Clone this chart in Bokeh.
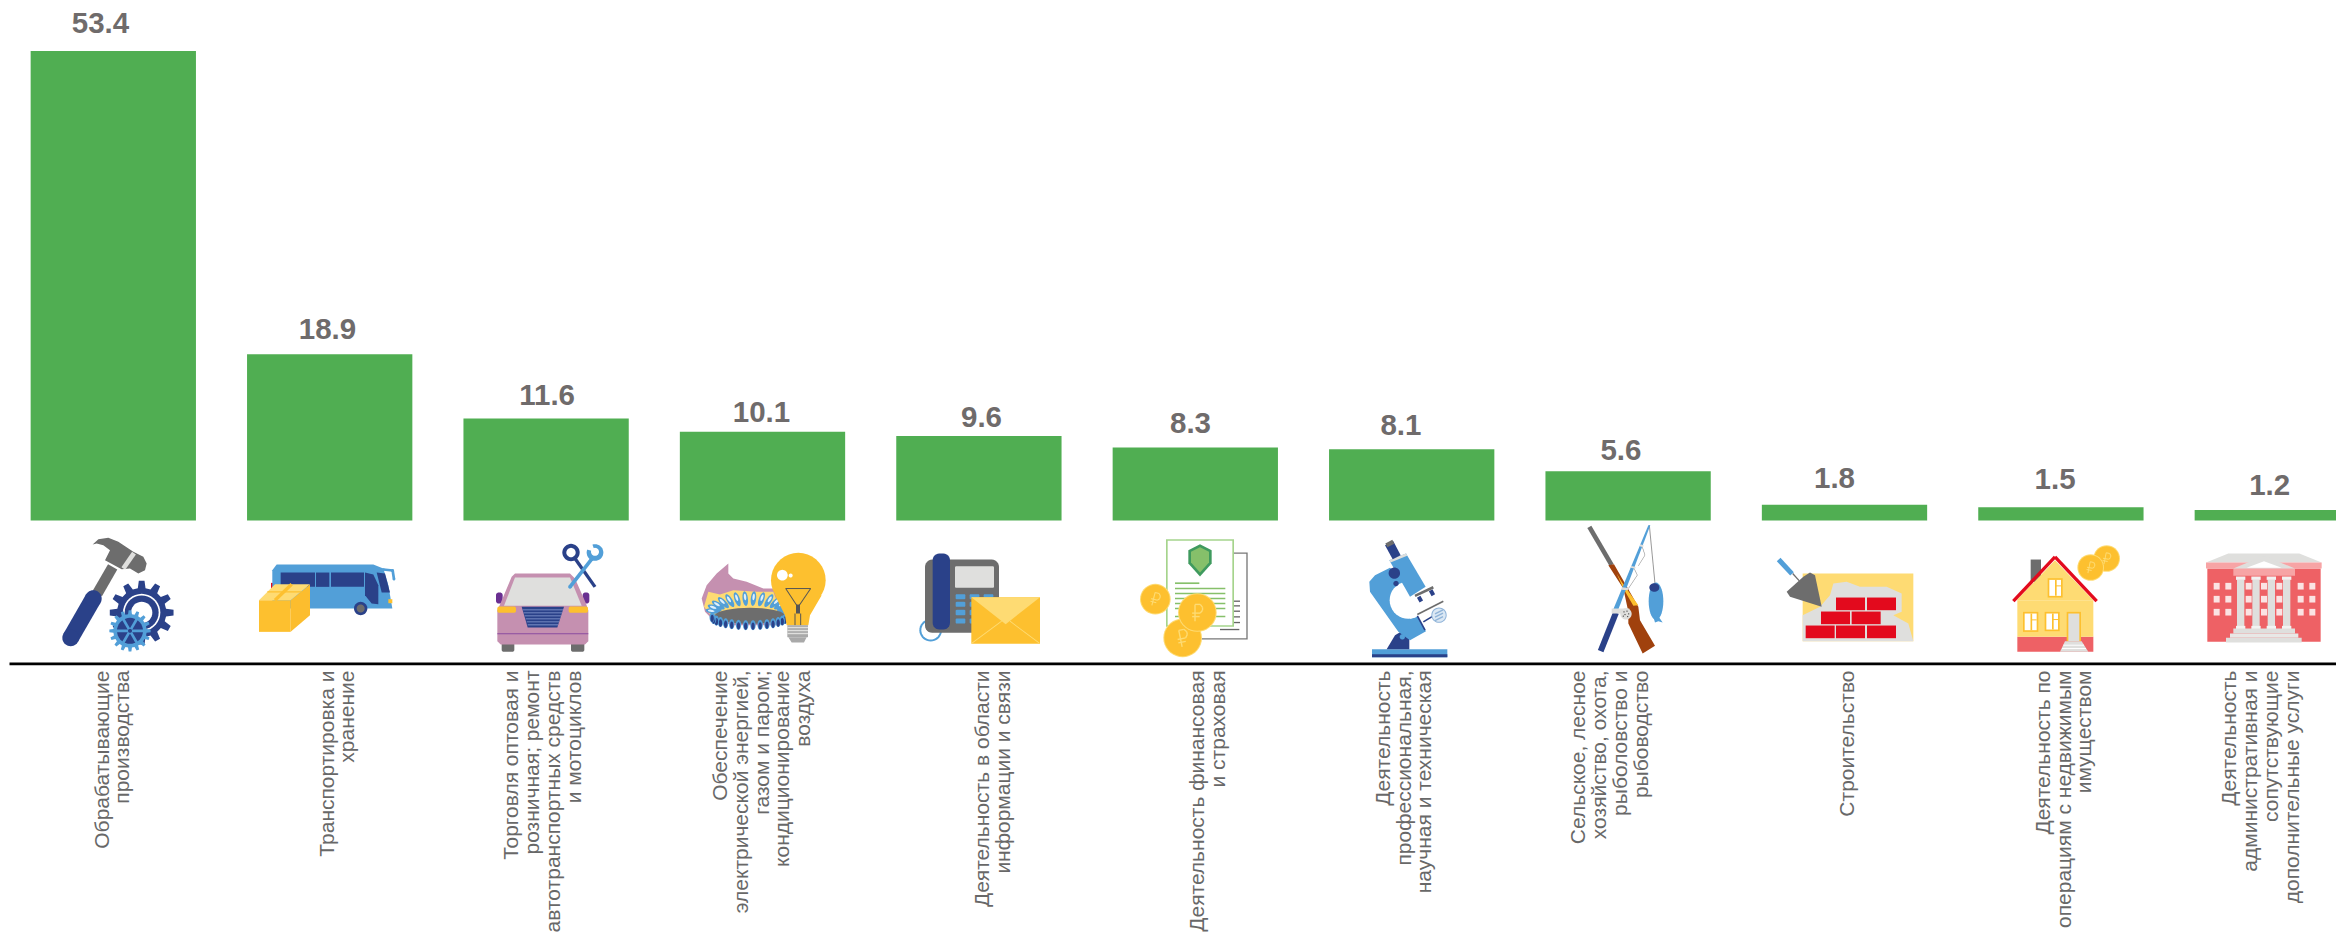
import math
from bokeh.plotting import figure
from bokeh.models import ColumnDataSource, Range1d
from bokeh.core.properties import value
from bokeh.embed import file_html
from bokeh.resources import INLINE

# ---------- data ----------
categories = [
    ["Обрабатывающие", "производства"],
    ["Транспортировка и", "хранение"],
    ["Торговля оптовая и", "розничная; ремонт", "автотранспортных средств", "и мотоциклов"],
    ["Обеспечение", "электрической энергией,", "газом и паром;", "кондиционирование", "воздуха"],
    ["Деятельность в области", "информации и связи"],
    ["Деятельность финансовая", "и страховая"],
    ["Деятельность", "профессиональная,", "научная и техническая"],
    ["Сельское, лесное", "хозяйство, охота,", "рыболовство и", "рыбоводство"],
    ["Строительство"],
    ["Деятельность по", "операциям с недвижимым", "имуществом"],
    ["Деятельность", "административная и", "сопутствующие", "дополнительные услуги"],
]
shares = [53.4, 18.9, 11.6, 10.1, 9.6, 8.3, 8.1, 5.6, 1.8, 1.5, 1.2]

# ---------- layout (pixels, not data) ----------
W, H = 2336, 937
BAR0, PITCH, BARW = 112.8, 216.4, 165.3
BASE_Y, PX_PER_UNIT = 520.0, 8.79
value_label_x = [100.0, 327.0, 546.6, 761.0, 981.0, 1190.0, 1400.4, 1620.4, 1834.0, 2054.6, 2269.2]
value_label_gap = [28, 25, 24, 20, 19, 25, 24, 21.5, 27, 28, 24.5]
cat_label_cx = [111, 336, 541.5, 760.5, 991.5, 1206.5, 1402.5, 1608.5, 1845.5, 2062.5, 2259.5]
LINE_PITCH = 20.7

GREEN, TXT, VAL = "#50ae52", "#686868", "#6f6b6b"
NAVY, SKY, GOLD, PALE, GRAY, LG = "#2a4189", "#529fd8", "#fdc02f", "#fedb73", "#6d6d6d", "#dfdfdd"
PINK, RED, CORAL, ROSE, BROWN = "#c590b0", "#e30a1d", "#ee6165", "#f7a4a5", "#a0410d"

p = figure(width=W, height=H, output_backend="svg", toolbar_location=None,
           x_range=Range1d((0 - BAR0) / PITCH, (W - BAR0) / PITCH),
           y_range=Range1d((BASE_Y - H) / PX_PER_UNIT, BASE_Y / PX_PER_UNIT),
           min_border=0, min_border_left=0, min_border_right=0, min_border_top=0, min_border_bottom=0,
           background_fill_color="white", border_fill_color="white", outline_line_color=None)
p.styles = {"position": "absolute", "left": "0px", "top": "0px"}
p.axis.visible = False
p.grid.visible = False
p.extra_x_ranges["px"] = Range1d(0, W)
p.extra_y_ranges["px"] = Range1d(H, 0)

idx = list(range(len(shares)))
p.vbar(x=idx, top=shares, bottom=0, width=BARW / PITCH, fill_color=GREEN, line_color=None)

# ---------- icons, as polygons in crop coordinates (3x) ----------
shapes = []
O = (0, 0)
def poly(pts, c):
    shapes.append(([O[0] + x / 3 - 0.5 for x, y in pts], [O[1] + y / 3 - 0.3 for x, y in pts], c))
def rect(x0, y0, x1, y1, c):
    poly([(x0, y0), (x1, y0), (x1, y1), (x0, y1)], c)
def ell(cx, cy, rx, ry, c, rot=0.0, n=36):
    pts = []
    for i in range(n):
        a = 2 * math.pi * i / n
        x, y = rx * math.cos(a), ry * math.sin(a)
        pts.append((cx + x * math.cos(rot) - y * math.sin(rot), cy + x * math.sin(rot) + y * math.cos(rot)))
    poly(pts, c)
def circ(cx, cy, r, c):
    ell(cx, cy, r, r, c)
def seg(x0, y0, x1, y1, w, c, round_=False):
    dx, dy = x1 - x0, y1 - y0
    L = math.hypot(dx, dy) or 1
    nx, ny = -dy / L * w / 2, dx / L * w / 2
    poly([(x0 + nx, y0 + ny), (x1 + nx, y1 + ny), (x1 - nx, y1 - ny), (x0 - nx, y0 - ny)], c)
    if round_:
        circ(x0, y0, w / 2, c)
        circ(x1, y1, w / 2, c)
def pline(pts, w, c, round_=False):
    for a, b in zip(pts[:-1], pts[1:]):
        seg(a[0], a[1], b[0], b[1], w, c, round_)
def rrect(x0, y0, x1, y1, r, c):
    pts = []
    for cx, cy, a0 in ((x1 - r, y0 + r, -90), (x1 - r, y1 - r, 0), (x0 + r, y1 - r, 90), (x0 + r, y0 + r, 180)):
        for k in range(7):
            a = math.radians(a0 + k * 15)
            pts.append((cx + r * math.cos(a), cy + r * math.sin(a)))
    poly(pts, c)
def gear(cx, cy, ro, ri, teeth, c):
    pts = []
    st = 2 * math.pi / teeth
    for i in range(teeth):
        a = i * st
        for da, r in ((-0.30, ri), (-0.17, ro), (0.17, ro), (0.30, ri)):
            t = a + da * st
            pts.append((cx + r * math.cos(t), cy + r * math.sin(t)))
    poly(pts, c)
def ruble(cx, cy, s, rot, c=PALE):
    def t(x, y):
        return (cx + s * (x * math.cos(rot) - y * math.sin(rot)), cy + s * (x * math.sin(rot) + y * math.cos(rot)))
    w = 0.12 * s
    pline([t(-0.2, 0.75), t(-0.2, -0.7), t(0.25, -0.7), t(0.45, -0.45), t(0.45, -0.2), t(0.25, 0.05), t(-0.45, 0.05)], w, c)
    seg(*t(-0.45, 0.35), *t(0.2, 0.35), w, c)
def coin(cx, cy, r, rot=0.0):
    circ(cx, cy, r, PALE)
    circ(cx, cy, r - 3, GOLD)
    ruble(cx, cy, r * 0.6, rot)

# 1 hammer + gears
O = (40, 535)
seg(218, 95, 172, 175, 32, GRAY)
seg(160, 190, 92, 308, 50, NAVY, True)
poly([(158, 28), (175, 12), (205, 8), (235, 20), (280, 50), (310, 65), (320, 85), (315, 105), (295, 115),
      (270, 100), (245, 102), (195, 75), (210, 45), (190, 30), (170, 25)], GRAY)
seg(282, 54, 250, 100, 14, LG)
gear(305, 232, 96, 74, 12, NAVY)
circ(305, 232, 56, "white")
circ(305, 232, 51, NAVY)
circ(305, 232, 32, "white")
gear(270, 287, 62, 50, 16, SKY)
circ(270, 287, 39, NAVY)
for k in range(6):
    a = k * math.pi / 3
    seg(270, 287, 270 + 42 * math.cos(a), 287 + 42 * math.sin(a), 8, SKY)
circ(270, 287, 6, NAVY)

# 2 bus + box
rect(693, 143, 700, 162, RED)
poly([(697, 105), (710, 88), (1000, 88), (1030, 100), (1045, 150), (1057, 220), (697, 220)], SKY)
rect(722, 112, 825, 155, NAVY)
rect(828, 112, 868, 155, NAVY)
rect(873, 112, 972, 155, NAVY)
poly([(975, 112), (1000, 118), (1015, 150), (1015, 207), (995, 205), (975, 180)], NAVY)
poly([(1010, 112), (1035, 115), (1050, 172), (1025, 172)], NAVY)
pline([(1030, 103), (1058, 106), (1062, 132)], 8, SKY, True)
rect(1045, 192, 1057, 204, GOLD)
circ(962, 220, 20, NAVY)
circ(962, 220, 12, GRAY)
rect(657, 195, 752, 290, GOLD)
poly([(752, 195), (810, 148), (810, 240), (752, 290)], "#fcbd2e")
poly([(657, 195), (705, 147), (810, 147), (752, 195)], PALE)
seg(682, 170, 785, 170, 4, GOLD)
seg(705, 195, 755, 147, 10, GOLD)

# 3 car + spanners
O = (480, 535)
seg(285, 70, 345, 155, 10, NAVY)
circ(273, 52, 26, NAVY)
circ(273, 52, 14, "white")
rrect(48, 172, 68, 205, 8, "#6a2f91")
rrect(308, 172, 328, 205, 8, "#6a2f91")
rrect(65, 320, 103, 350, 6, GRAY)
rrect(273, 320, 313, 350, 6, GRAY)
poly([(52, 225), (60, 208), (95, 125), (105, 115), (270, 115), (285, 130), (318, 205), (325, 225), (325, 318),
      (315, 328), (62, 328), (52, 318)], PINK)
poly([(105, 127), (270, 127), (305, 212), (72, 212)], LG)
rrect(52, 214, 108, 233, 6, GOLD)
rrect(266, 214, 324, 233, 6, GOLD)
poly([(125, 215), (252, 215), (232, 277), (143, 277)], NAVY)
for k in range(1, 7):
    seg(125 + k * 3, 215 + k * 9, 252 - k * 3, 215 + k * 9, 2.5, "#8ea2d6")
seg(52, 296, 325, 296, 3, "#8a4ba0")
seg(270, 155, 335, 72, 11, SKY, True)
circ(345, 52, 25, SKY)
circ(345, 50, 12, "white")
poly([(345, 50), (318, 42), (335, 22)], "white")

# 4 flame + bulb
poly([(745, 85), (745, 115), (760, 130), (800, 140), (850, 160), (880, 160), (900, 210), (900, 270), (760, 270),
      (700, 255), (675, 230), (665, 190), (680, 150), (710, 115)], PINK)
poly([(672, 215), (685, 170), (720, 178), (760, 165), (830, 170), (880, 170), (910, 250), (700, 250)], PALE)
for k in range(14):
    a = math.pi + (k + 0.5) * math.pi / 14
    x, y = 808 + 110 * math.cos(a), 232 + 42 * math.sin(a)
    ell(x, y, 22, 8, SKY, rot=a)
    ell(x + 5 * math.cos(a), y + 5 * math.sin(a), 10, 3.5, "#dff0fb", rot=a)
ell(810, 242, 106, 24, GRAY)
for k in range(16):
    a = (k + 0.5) * math.pi / 16
    x, y = 808 + 112 * math.cos(a), 244 + 26 * math.sin(a)
    ell(x, y, 8, 15, SKY)
    ell(x, y + 3, 5, 11, NAVY)
poly([(885, 180), (1025, 180), (990, 240), (985, 270), (920, 270), (915, 240)], GOLD)
circ(955, 135, 82, GOLD)
circ(907, 120, 16, "white")
circ(932, 121, 6, "white")
seg(917, 160, 992, 160, 3, "#555555")
seg(917, 160, 950, 210, 3, "#555555")
seg(992, 160, 958, 210, 3, "#555555")
rect(948, 208, 960, 235, "#555555")
seg(945, 235, 945, 270, 3, "#555555")
seg(962, 235, 962, 270, 3, "#555555")
rect(922, 270, 984, 306, "#a9a9a9")
for yy in (277, 286, 295):
    seg(922, yy, 984, yy, 4, LG)
poly([(925, 306), (980, 306), (972, 322), (935, 322)], "#a9a9a9")

# 5 phone + envelope
O = (910, 535)
circ(62, 285, 34, SKY)
circ(62, 285, 28, "white")
rrect(45, 73, 267, 293, 22, GRAY)
rrect(135, 93, 252, 158, 4, LG)
for xx in (137, 179, 221):
    for yy in ((177, 192), (200, 215), (224, 240), (250, 265)):
        rrect(xx, yy[0], xx + 29, yy[1], 3, SKY)
rrect(68, 55, 120, 283, 20, NAVY)
rect(184, 186, 390, 326, GOLD)
poly([(184, 186), (390, 186), (287, 267)], PALE)
seg(186, 324, 275, 258, 2.5, PALE)
seg(388, 324, 300, 258, 2.5, PALE)

# 6 documents + coins
rect(828, 52, 1013, 313, "#777777")
rect(832, 56, 1009, 309, "white")
for yy in (198, 212, 228, 245, 262):
    seg(950, yy, 990, yy, 4, "#666666")
seg(930, 283, 988, 283, 4, "#666666")
rect(768, 12, 972, 275, "#a5d48c")
rect(773, 17, 967, 270, "white")
poly([(870, 27), (905, 45), (905, 85), (870, 124), (835, 85), (835, 45)], "#3f9a5e")
poly([(870, 36), (897, 50), (897, 82), (870, 112), (843, 82), (843, 50)], "#86c06a")
seg(795, 144, 868, 144, 5, "#86c06a")
for yy in (160, 175, 190, 205, 220, 244):
    seg(795, yy, 946, yy, 5, "#86c06a")
coin(736, 192, 46, 0.25)
coin(818, 308, 58, -0.2)
coin(862, 232, 58, 0.0)

# 7 microscope
O = (1360, 525)
rect(36, 372, 262, 396, SKY)
rect(36, 387, 262, 396, NAVY)
poly([(80, 372), (105, 330), (125, 318), (148, 335), (148, 372)], NAVY)
circ(127, 335, 8, SKY)
poly([(28, 170), (45, 150), (90, 128), (130, 165), (160, 250), (198, 318), (150, 345), (115, 320), (30, 200)], SKY)
circ(145, 225, 56, "white")
poly([(145, 175), (210, 170), (205, 265), (150, 281)], "white")
poly([(88, 105), (138, 85), (197, 185), (150, 215)], SKY)
seg(90, 108, 140, 88, 8, LG)
poly([(75, 60), (100, 48), (122, 90), (98, 102)], NAVY)
poly([(76, 55), (97, 44), (103, 56), (82, 66)], GRAY)
circ(103, 144, 17, NAVY)
circ(108, 175, 8, NAVY)
seg(176, 215, 184, 229, 12, NAVY)
seg(212, 195, 220, 210, 12, NAVY)
seg(165, 212, 220, 186, 8, GRAY)
seg(172, 268, 250, 228, 5, GRAY)
seg(172, 272, 195, 315, 5, NAVY)
seg(190, 290, 220, 272, 5, NAVY)
circ(237, 270, 23, "#8fb3d8")
circ(237, 270, 20, "#dbe8f4")
for d in (-10, 0, 10):
    seg(225, 270 + d + 6, 249, 270 + d - 6, 4, "#8fb3d8")

# 8 rifle + rod + fish
seg(688, 5, 755, 120, 14, GRAY)
poly([(745, 120), (762, 117), (835, 245), (840, 285), (885, 362), (848, 385), (805, 295), (805, 260), (790, 190)], BROWN)
poly([(770, 145), (785, 170), (835, 240), (820, 242), (790, 190)], GOLD)
seg(868, 0, 885, 175, 3, "#999999")
poly([(865, 0), (871, 0), (773, 258), (760, 252)], SKY)
seg(768, 262, 722, 378, 18, NAVY)
pline([(845, 60), (855, 90), (835, 122)], 1.5, "#888888")
pline([(820, 125), (832, 150), (805, 190)], 1.5, "#888888")
seg(840, 60, 850, 63, 6, LG)
seg(813, 125, 826, 128, 6, LG)
seg(785, 190, 804, 192, 7, LG)
rect(755, 250, 808, 265, LG)
circ(798, 266, 17, LG)
for dx_, dy_ in ((-6, -6), (3, -8), (8, 0), (-3, 2), (5, 8), (-8, 7)):
    circ(798 + dx_, 266 + dy_, 2, "#555555")
ell(888, 228, 22, 56, SKY)
poly([(880, 275), (896, 275), (908, 292), (895, 288), (885, 292)], SKY)
ell(883, 187, 15, 13, NAVY)

# 9 wall
O = (1770, 535)
rect(98, 115, 430, 318, PALE)
poly([(98, 240), (150, 215), (180, 180), (190, 145), (230, 140), (270, 155), (350, 155), (395, 175), (395, 230),
      (370, 240), (415, 265), (430, 318), (98, 318)], LG)
for r_ in ((187, 225, (198, 291)), (229, 267, (153, 245)), (271, 309, (107, 198, 291))):
    for xx in r_[2]:
        rect(xx, r_[0], xx + 87, r_[1], RED)
seg(68, 115, 88, 137, 4, GRAY)
seg(26, 73, 66, 116, 15, SKY, False)
poly([(120, 112), (135, 120), (155, 215), (60, 185), (50, 170), (100, 125)], GRAY)

# 10 house + coins
rect(782, 73, 813, 140, GRAY)
rect(742, 305, 970, 350, CORAL)
rect(742, 195, 970, 305, PALE)
poly([(740, 195), (855, 75), (970, 195)], PALE)
pline([(730, 198), (855, 65), (980, 198)], 10, RED)
def window(x0, y0, x1, y1):
    rect(x0, y0, x1, y1, GOLD)
    rect(x0 + 5, y0 + 5, x1 - 5, y1 - 5, "white")
    seg((x0 + x1) / 2 + 2, y0 + 5, (x0 + x1) / 2 + 2, y1 - 5, 5, GOLD)
    seg((x0 + x1) / 2 + 2, (y0 + y1) / 2 - 6, x1 - 5, (y0 + y1) / 2 - 6, 3, GOLD)
window(833, 129, 878, 187)
window(759, 230, 805, 290)
window(824, 230, 869, 288)
rect(890, 230, 933, 318, GOLD)
rect(895, 235, 928, 318, LG)
poly([(885, 318), (935, 318), (955, 350), (870, 350)], LG)
seg(880, 330, 942, 330, 3, "white")
seg(876, 340, 948, 340, 3, "white")
coin(1010, 70, 40, 0.2)
coin(962, 97, 40, 0.2)

# 11 columned building
O = (2190, 535)
rect(52, 100, 392, 320, CORAL)
poly([(48, 82), (115, 55), (328, 55), (395, 82)], LG)
rect(48, 82, 395, 100, ROSE)
rect(130, 100, 315, 122, ROSE)
poly([(130, 100), (222, 62), (315, 100)], LG)
poly([(170, 98), (222, 78), (275, 98)], "white")
for xx in (152, 198, 244, 290):
    rect(xx - 11, 133, xx + 11, 280, LG)
    rect(xx - 14, 124, xx + 14, 134, "#f2f2f1")
    rect(xx - 14, 272, xx + 14, 282, "#f2f2f1")
rect(130, 280, 315, 295, LG)
rect(120, 295, 325, 308, "#e8e8e6")
rect(108, 308, 335, 322, LG)
for xx in (80, 115, 176, 222, 268, 332, 367):
    for yy in (153, 192, 231):
        rect(xx - 9, yy - 10, xx + 9, yy + 10, "#fbe3e3")

p.patches(xs=[s[0] for s in shapes], ys=[s[1] for s in shapes], fill_color=[s[2] for s in shapes],
          line_color=None, x_range_name="px", y_range_name="px")

# ---------- baseline ----------
p.segment(x0=[9], y0=[663.4], x1=[W], y1=[663.4], line_color="black", line_width=2.6,
          x_range_name="px", y_range_name="px")

# ---------- value labels ----------
vsrc = ColumnDataSource(dict(
    x=idx, y=shares, t=[f"{v:.1f}" for v in shares],
    dx=[lx - (BAR0 + i * PITCH) for i, lx in enumerate(value_label_x)],
    dy=[-g for g in value_label_gap],
))
p.text(x="x", y="y", text="t", source=vsrc, x_offset="dx", y_offset="dy",
       text_font=value("Liberation Sans"), text_font_style="bold", text_font_size="29.5px",
       text_color=VAL, text_align="center", text_baseline="middle")

# ---------- category labels ----------
lx, lt = [], []
for cx, lines in zip(cat_label_cx, categories):
    n = len(lines)
    for i, s in enumerate(lines):
        lx.append(cx + (i - (n - 1) / 2) * LINE_PITCH)
        lt.append(s)
p.text(x=lx, y=[670.0] * len(lx), text=lt, angle=math.pi / 2,
       text_font=value("Liberation Sans"), text_font_size="21px", text_color=TXT,
       text_align="right", text_baseline="middle", x_range_name="px", y_range_name="px")

open("out.html", "w").write(file_html(p, INLINE))
